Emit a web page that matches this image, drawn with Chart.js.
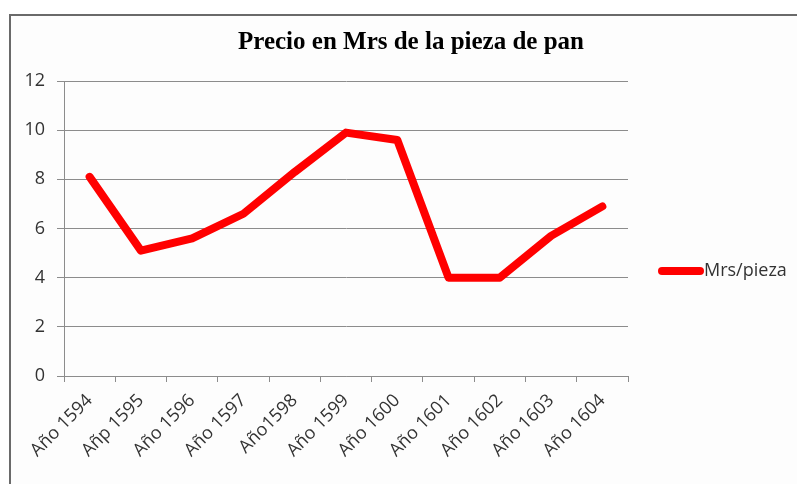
<!DOCTYPE html>
<html>
<head>
<meta charset="utf-8">
<script src="https://cdn.jsdelivr.net/npm/chart.js@4"></script>
<style>
  html, body { margin: 0; padding: 0; background: #fff; }
  #wrap { position: relative; width: 797px; height: 484px; overflow: hidden; }
  #frame { position: absolute; left: 9px; top: 14px; width: 900px; height: 600px; border: 2px solid #6a6a6a; background: #fdfdfd; }
  canvas { position: absolute; left: 0; top: 0; }
</style>
</head>
<body>
<div id="wrap">
  <div id="frame"></div>
  <canvas id="chartContainer" width="797" height="484"></canvas>
</div>
<script>
// Variables
const chartTitle = 'Precio en Mrs de la pieza de pan';
const seriesName = 'Mrs/pieza';
const years = ['Año 1594', 'Añp 1595', 'Año 1596', 'Año 1597', 'Año1598', 'Año 1599',
               'Año 1600', 'Año 1601', 'Año 1602', 'Año 1603', 'Año 1604'];
const prices = [8.1, 5.1, 5.6, 6.6, 8.3, 9.9, 9.6, 4.0, 4.0, 5.7, 6.9];
const yTicks = [0, 2, 4, 6, 8, 10, 12];

const lineColor = '#ff0000';
const gridColor = '#8c8c8c';
const textColor = '#333333';

// Title and legend drawn by hand so they sit where the original has them
const extras = {
    id: 'extras',
    afterDraw(chart) {
        const ctx = chart.ctx;
        ctx.save();
        ctx.fillStyle = '#000';
        ctx.font = 'bold 25px "Liberation Serif"';
        ctx.textAlign = 'center';
        ctx.textBaseline = 'alphabetic';
        ctx.fillText(chartTitle, 411, 49);

        // legend
        ctx.strokeStyle = lineColor;
        ctx.lineWidth = 8;
        ctx.lineCap = 'round';
        ctx.beginPath();
        ctx.moveTo(662, 271);
        ctx.lineTo(700, 271);
        ctx.stroke();
        ctx.fillStyle = textColor;
        ctx.font = '18px "Open Sans"';
        ctx.textAlign = 'left';
        ctx.textBaseline = 'middle';
        ctx.fillText(seriesName, 704, 271);
        ctx.restore();
    }
};

const ctx = document.getElementById('chartContainer').getContext('2d');
const chart = new Chart(ctx, {
    type: 'line',
    data: {
        labels: years,
        datasets: [{
            label: seriesName,
            data: prices,
            borderColor: lineColor,
            backgroundColor: lineColor,
            borderWidth: 8,
            borderJoinStyle: 'round',
            borderCapStyle: 'round',
            pointRadius: 0,
            tension: 0
        }]
    },
    options: {
        responsive: false,
        animation: false,
        layout: { padding: { left: 0, top: 81, right: 169, bottom: 0 } },
        plugins: {
            legend: { display: false },
            title: { display: false },
            tooltip: { enabled: false }
        },
        scales: {
            x: {
                offset: true,
                grid: { offset: true, drawOnChartArea: false, drawTicks: true, tickLength: 6, color: gridColor },
                border: { display: true, color: gridColor },
                ticks: {
                    color: textColor,
                    font: { family: 'Open Sans', size: 18 },
                    maxRotation: 45,
                    minRotation: 45,
                    autoSkip: false,
                    padding: 8
                },
                afterFit: s => { s.height = 108; }
            },
            y: {
                min: yTicks[0],
                max: yTicks[yTicks.length - 1],
                afterBuildTicks: s => { s.ticks = yTicks.map(v => ({ value: v })); },
                grid: { color: gridColor, tickLength: 7 },
                border: { display: true, color: gridColor },
                ticks: {
                    color: textColor,
                    font: { family: 'Open Sans', size: 18 },
                    padding: 12
                },
                afterFit: s => { s.width = 64; }
            }
        }
    },
    plugins: [extras]
});
</script>
</body>
</html>
